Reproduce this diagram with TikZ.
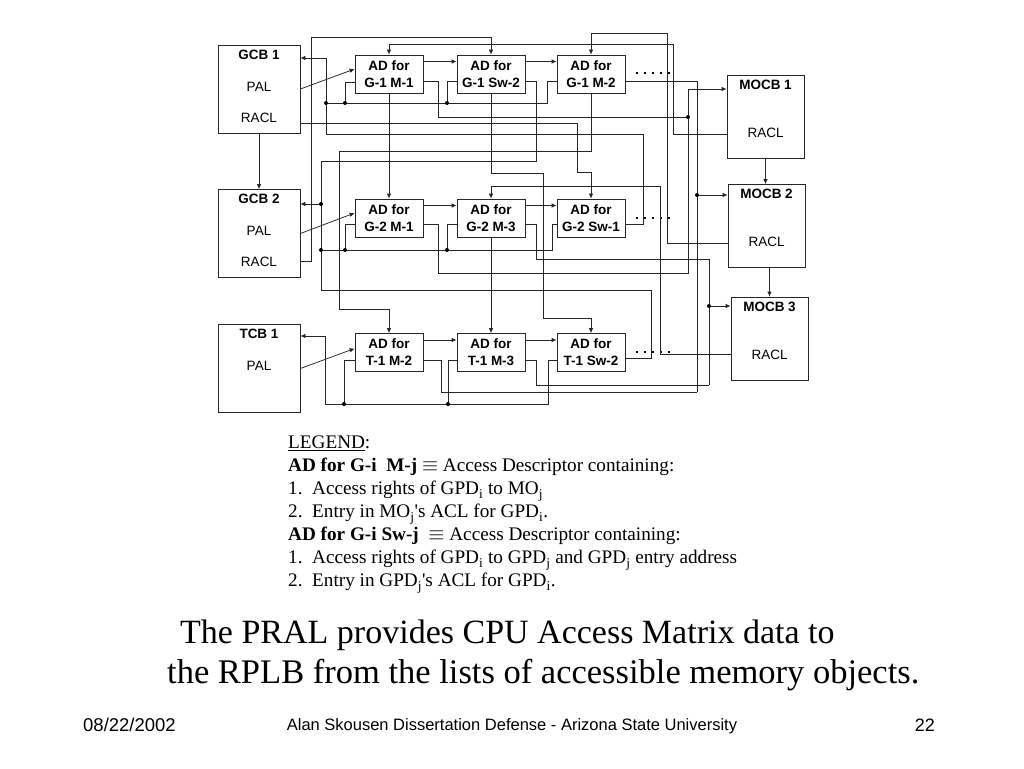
\documentclass[tikz,border=0pt]{standalone}
\usepackage{fontspec}
\setmainfont{Liberation Serif}
\setsansfont{Liberation Sans}
\usetikzlibrary{arrows.meta,positioning}

\begin{document}
\begin{tikzpicture}[x=1pt,y=-1pt,
    wire/.style={draw=black!85, line width=0.75pt},
    arr/.style={wire, -{Latex[length=5pt,width=4.5pt]}},
    adbox/.style={draw=black!85, line width=0.75pt, minimum width=68pt, minimum height=38pt, inner sep=0pt, align=center, font=\sffamily\bfseries\fontsize{13.5}{17}\selectfont},
    cbbox/.style={draw=black!85, line width=0.75pt, minimum width=82pt, minimum height=88pt, inner sep=0pt},
    mobox/.style={draw=black!85, line width=0.75pt, minimum width=77pt, minimum height=83pt, inner sep=0pt},
    head/.style={font=\sffamily\bfseries\fontsize{13.5}{15}\selectfont, inner sep=0pt},
    field/.style={font=\sffamily\fontsize{13.5}{15}\selectfont, inner sep=0pt},
    more/.style={line width=1.8pt, dash pattern=on 1.8pt off 6.2pt}
]
        \fill[white] (0,0) rectangle (1024,768);
        \useasboundingbox (0,0) rectangle (1024,768);

        % Control blocks
        \node[cbbox] (gcb1) at (259,89) {};
        \node[head] at ([yshift=-10pt]gcb1.north) {GCB 1};
        \node[field] at ([yshift=-42pt]gcb1.north) {PAL};
        \node[field] at ([yshift=-73pt]gcb1.north) {RACL};
        \node[cbbox] (gcb2) at (259,233.5) {};
        \node[head] at ([yshift=-10pt]gcb2.north) {GCB 2};
        \node[field] at ([yshift=-42pt]gcb2.north) {PAL};
        \node[field] at ([yshift=-73pt]gcb2.north) {RACL};
        \node[cbbox] (tcb1) at (259,368.5) {};
        \node[head] at ([yshift=-10pt]tcb1.north) {TCB 1};
        \node[field] at ([yshift=-42pt]tcb1.north) {PAL};

        % Memory object blocks
        \node[mobox] (mocb1) at (765.5,117) {};
        \node[head] at ([yshift=-10pt]mocb1.north) {MOCB 1};
        \node[field] at ([yshift=-58pt]mocb1.north) {RACL};
        \node[mobox] (mocb2) at (766.5,226) {};
        \node[head] at ([yshift=-10pt]mocb2.north) {MOCB 2};
        \node[field] at ([yshift=-58pt]mocb2.north) {RACL};
        \node[mobox] (mocb3) at (769.5,338.5) {};
        \node[head] at ([yshift=-10pt]mocb3.north) {MOCB 3};
        \node[field] at ([yshift=-58pt]mocb3.north) {RACL};

        % Access descriptors
        \node[adbox] (a11) at (389,74) {AD for\\G-1 M-1};
        \node[adbox] (a12) at (491,74) {AD for\\G-1 Sw-2};
        \node[adbox] (a13) at (591,74) {AD for\\G-1 M-2};
        \node[adbox] (a21) at (389,218) {AD for\\G-2 M-1};
        \node[adbox] (a22) at (491,218) {AD for\\G-2 M-3};
        \node[adbox] (a23) at (591,218) {AD for\\G-2 Sw-1};
        \node[adbox] (a31) at (389,352.5) {AD for\\T-1 M-2};
        \node[adbox] (a32) at (491,352.5) {AD for\\T-1 M-3};
        \node[adbox] (a33) at (591,352.5) {AD for\\T-1 Sw-2};

        \draw[more] (636,73) -- (672,73);
        \draw[more] (636,218) -- (672,218);
        \draw[more] (636,352) -- (672,352);

        % Block to block
        \draw[arr] (gcb1.south) -- (gcb2.north);
        \draw[arr] (mocb1.south) -- (mocb1.south |- mocb2.north);
        \draw[arr] (mocb3.north |- mocb2.south) -- (mocb3.north);

        % PAL to first descriptor, then along each row
        \draw[arr] (gcb1.east) -- ([yshift=5pt]a11.west);
        \draw[arr] (gcb2.east) -- ([yshift=5pt]a21.west);
        \draw[arr] (tcb1.east) -- ([yshift=4pt]a31.west);
        \foreach \r in {1,2,3} {
            \draw[arr] ([yshift=12.5pt]a\r1.east) -- ([yshift=12.5pt]a\r2.west);
            \draw[arr] ([yshift=12.5pt]a\r2.east) -- ([yshift=12.5pt]a\r3.west);
        }

        % RACL entries into the descriptors
        \draw[arr] ([yshift=-17pt]mocb1.west) -| (673,44) -| (a11.north);
        \draw[arr] (a11.south) -- (a21.north);
        \draw[arr] ([yshift=-17pt]mocb2.west) -| (667,33) -| (a13.north);
        \draw[arr] (a13.south) |- (339,151) -- (339,309) -| (a31.north);
        \draw[arr] ([yshift=-28pt]gcb2.east) -| (311,37) -| (a12.north);
        \draw[arr] (a12.south) |- (543,173) -- (543,318) -| (a33.north);
        \draw[arr] ([yshift=-34pt]gcb1.east) -| (577,172) -| (a23.north);
        \draw[arr] ([yshift=-16pt]mocb3.west) -| (660,186) -| (a22.north);
        \draw[arr] (a22.south) -- (a32.north);

        % Descriptors to memory objects
        \draw[wire] ([yshift=-7pt]a11.east) -| (438,117) -- (688,117);
        \draw[arr] ([yshift=-6pt]a21.east) -| (438,273) -| (688,89) -- ([yshift=28pt]mocb1.west);
        \draw[wire] ([yshift=-7pt]a13.east) -| (697,392);
        \draw[wire] ([yshift=-8pt]a31.east) -| (441,392) -- (697,392);
        \draw[arr] (697,195) -- ([yshift=31pt]mocb2.west);
        \draw[wire] ([yshift=-6pt]a22.east) -| (536,259) -| (709,385);
        \draw[wire] ([yshift=-8pt]a32.east) -| (536,385) -- (709,385);
        \draw[arr] (709,306) -- ([yshift=32.5pt]mocb3.west);

        % Switch descriptors back to the control blocks
        \draw[wire] ([yshift=-7pt]a12.east) -| (536,161) -- (321,161) -- (321,290);
        \draw[wire] ([yshift=-6pt]a33.east) -| (651,290) -- (321,290);
        \draw[arr] (321,204) -- ([yshift=29.5pt]gcb2.east);
        \draw[arr] ([yshift=-6pt]a23.east) -| (643,134) -| (326,58) -- ([yshift=31pt]gcb1.east);

        % Return buses
        \draw[wire] ([yshift=-7pt]a13.west) -| (547,103) -- (326,103);
        \draw[wire] ([yshift=-8pt]a11.west) -| (345,103);
        \draw[wire] ([yshift=-7pt]a12.west) -| (447,103);
        \draw[wire] ([yshift=-6pt]a23.west) -| (552,250) -- (321,250);
        \draw[wire] ([yshift=-6pt]a21.west) -| (345,250);
        \draw[wire] ([yshift=-6pt]a22.west) -| (447,250);
        \draw[arr] ([yshift=-8pt]a33.west) -| (548,404) -| (325,336) -- ([yshift=32.5pt]tcb1.east);
        \draw[wire] ([yshift=-8pt]a31.west) -| (344,404);
        \draw[wire] ([yshift=-8pt]a32.west) -| (448,404);

        \foreach \p in {(326,103),(345,103),(447,103),(321,204),(321,250),(345,250),(447,250),
                        (344,404),(448,404),(688,117),(697,195),(709,306)}
            \fill \p circle (2pt);

        % Legend
        \node[anchor=north west, align=left, inner sep=0pt, font=\fontsize{19.2}{23}\selectfont] (legend) at (288,436)
            {\underline{LEGEND}:\\
             \textbf{AD for G-i\ \ M-j} $\equiv$ Access Descriptor containing:\\
             1.\ \ Access rights of GPD\textsubscript{i} to MO\textsubscript{j}\\
             2.\ \ Entry in MO\textsubscript{j}\textquotesingle s ACL for GPD\textsubscript{i}.\\
             \textbf{AD for G-i Sw-j}\ \ $\equiv$ Access Descriptor containing:\\
             1.\ \ Access rights of GPD\textsubscript{i} to GPD\textsubscript{j} and GPD\textsubscript{j} entry address\\
             2.\ \ Entry in GPD\textsubscript{j}\textquotesingle s ACL for GPD\textsubscript{i}.};

        \node[anchor=base west, inner sep=0pt, font=\fontsize{34}{40}\selectfont] (note1) at (180,643)
            {The PRAL provides CPU Access Matrix data to};
        \node[anchor=base west, inner sep=0pt, font=\fontsize{34.5}{40}\selectfont] (note2) at (167,683)
            {the RPLB from the lists of accessible memory objects.};

        % Footer
        \node[anchor=base west, inner sep=0pt, font=\sffamily\fontsize{18.5}{20}\selectfont] (date) at (83,731) {08/22/2002};
        \node[anchor=base, inner sep=0pt, font=\sffamily\fontsize{16.5}{20}\selectfont] (talk) at (512,730)
            {Alan Skousen Dissertation Defense - Arizona State University};
        \node[anchor=base east, inner sep=0pt, font=\sffamily\fontsize{18}{20}\selectfont] (page) at (935,731) {22};
    \end{tikzpicture}
\end{document}
